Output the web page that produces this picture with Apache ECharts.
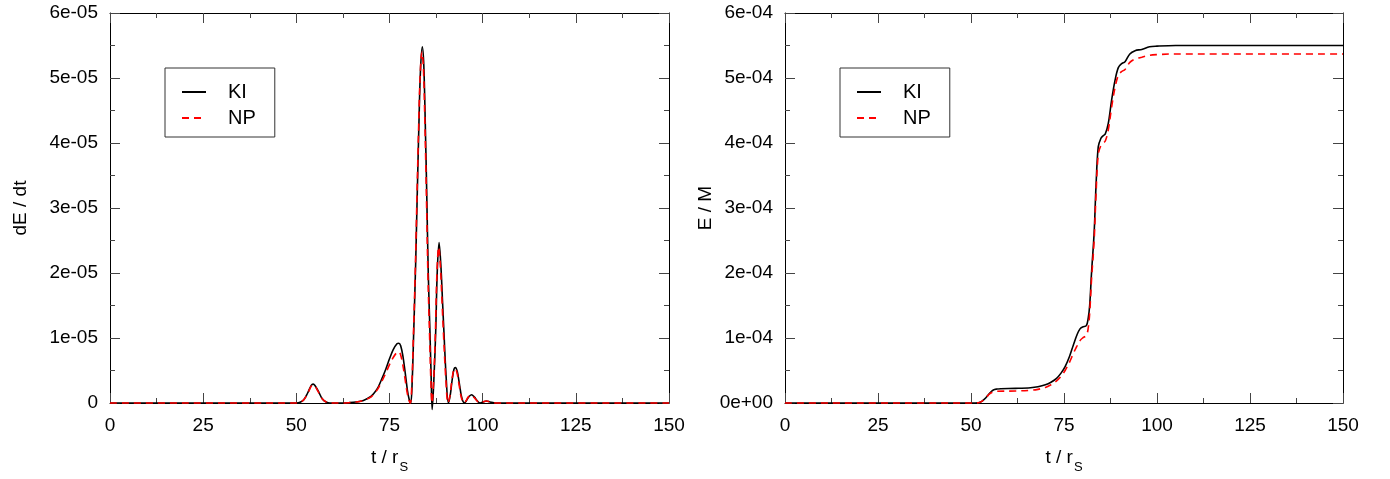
<!DOCTYPE html>
<html>
<head>
<meta charset="utf-8">
<script src="https://cdn.jsdelivr.net/npm/echarts@6/dist/echarts.min.js"></script>
<style>
  html, body { margin: 0; padding: 0; background: #fff; }
  #chart { width: 1390px; height: 479px; }
</style>
</head>
<body>
<div id="chart"></div>
<script>
// Energy flux dE/dt (units of 1e-05) versus t / r_S, two methods
var fluxKI = [
  [0, 0], [50, 0], [51, 0.01], [52, 0.05], [53, 0.15], [54, 0.27], [54.5, 0.29], [55, 0.27],
  [56, 0.17], [57, 0.06], [58, 0.015], [59, 0], [62, 0], [64, 0.005], [66, 0.015], [68, 0.04],
  [70, 0.1], [71, 0.16], [72, 0.25], [73, 0.38], [74, 0.52], [75, 0.68], [76, 0.82], [77, 0.91],
  [77.5, 0.92], [78, 0.88], [78.6, 0.72], [79.2, 0.47], [79.8, 0.2], [80.3, 0.05], [80.7, 0],
  [81.1, 0.35], [81.5, 1.1], [82.0, 2.1], [82.4, 3.1], [82.9, 4.3], [83.3, 5.1], [83.8, 5.48],
  [84.2, 5.2], [84.6, 4.3], [85.0, 3.2], [85.4, 2.0], [85.85, 1.1], [86.2, 0.35], [86.45, -0.1],
  [86.9, 0.35], [87.4, 1.1], [87.8, 2.0], [88.3, 2.47], [88.8, 2.1], [89.2, 1.6], [89.6, 1.1],
  [90.2, 0.4], [90.8, 0], [91.3, 0.12], [91.8, 0.35], [92.3, 0.52], [92.7, 0.545], [93.2, 0.48],
  [93.8, 0.28], [94.4, 0.08], [95.1, 0], [95.6, 0.03], [96.2, 0.09], [97, 0.127], [97.8, 0.09],
  [98.6, 0.03], [99.3, 0], [100.3, 0.02], [101, 0.03], [102, 0.015], [103.5, 0], [150, 0]
];
var fluxNP = [
  [0, 0], [50, 0], [51, 0.01], [52, 0.05], [53, 0.14], [54, 0.26], [54.5, 0.28], [55, 0.26],
  [56, 0.16], [57, 0.06], [58, 0.015], [59, 0], [62, 0], [64, 0.005], [66, 0.015], [68, 0.04],
  [70, 0.09], [71, 0.15], [72, 0.23], [73, 0.34], [74, 0.46], [75, 0.59], [76, 0.7], [77, 0.78],
  [77.5, 0.79], [78, 0.74], [78.6, 0.58], [79.2, 0.36], [79.8, 0.14], [80.3, 0.03], [80.6, 0],
  [81.0, 0.3], [81.4, 1.0], [81.9, 2.0], [82.3, 3.0], [82.8, 4.2], [83.2, 5.0], [83.7, 5.4],
  [84.1, 5.15], [84.5, 4.3], [84.9, 3.2], [85.3, 2.0], [85.75, 1.05], [86.1, 0.35], [86.4, 0],
  [86.8, 0.3], [87.3, 1.05], [87.7, 1.95], [88.2, 2.4], [88.7, 2.05], [89.1, 1.55], [89.5, 1.05],
  [90.1, 0.38], [90.7, 0], [91.2, 0.11], [91.7, 0.33], [92.2, 0.5], [92.6, 0.53], [93.1, 0.47],
  [93.7, 0.27], [94.3, 0.08], [95.0, 0], [95.5, 0.03], [96.1, 0.09], [96.9, 0.12], [97.7, 0.085],
  [98.5, 0.03], [99.2, 0], [100.2, 0.02], [101, 0.03], [102, 0.015], [103.5, 0], [150, 0]
];

// Radiated energy E / M (units of 1e-04) versus t / r_S
var energyKI = [
  [0, 0], [50, 0], [52, 0.005], [53, 0.03], [54, 0.08], [55, 0.15], [56, 0.2], [57, 0.215],
  [58, 0.22], [62, 0.225], [66, 0.235], [68, 0.25], [70, 0.28], [71.5, 0.32], [73, 0.38],
  [74.2, 0.46], [75.3, 0.56], [76.5, 0.72], [77.5, 0.89], [78.5, 1.05], [79.3, 1.14], [80, 1.17],
  [81, 1.19], [81.5, 1.3], [81.9, 1.5], [82.4, 2.0], [83.1, 2.62], [83.6, 3.33], [84.2, 3.94],
  [84.9, 4.07], [85.5, 4.11], [86.1, 4.14], [86.9, 4.3], [87.8, 4.66], [88.7, 4.96], [89.6, 5.16],
  [90.5, 5.22], [91.4, 5.25], [92.7, 5.37], [94.1, 5.42], [95.9, 5.44], [98, 5.48], [100, 5.49],
  [105, 5.5], [150, 5.5]
];
var energyNP = [
  [0, 0], [50, 0], [52, 0.005], [53, 0.03], [54, 0.08], [55, 0.14], [56, 0.17], [57, 0.18],
  [62, 0.185], [66, 0.195], [68, 0.21], [70, 0.24], [71.5, 0.28], [73, 0.34], [74.2, 0.41],
  [75.3, 0.5], [76.5, 0.63], [77.5, 0.76], [78.5, 0.88], [79.3, 0.96], [80, 1.0], [81, 1.04],
  [81.5, 1.15], [81.9, 1.38], [82.4, 1.9], [83.1, 2.5], [83.6, 3.2], [84.2, 3.82], [84.9, 3.96],
  [85.5, 4.0], [86.1, 4.03], [86.9, 4.2], [87.8, 4.55], [88.7, 4.85], [89.6, 5.04], [90.5, 5.1],
  [91.4, 5.13], [92.7, 5.24], [94.1, 5.29], [95.9, 5.32], [98, 5.35], [100, 5.36], [105, 5.37],
  [150, 5.37]
];

var xTicks = ['0', '25', '50', '75', '100', '125', '150'];
var fluxTicks = ['0', '1e-05', '2e-05', '3e-05', '4e-05', '5e-05', '6e-05'];
var energyTicks = ['0e+00', '1e-04', '2e-04', '3e-04', '4e-04', '5e-04', '6e-04'];

var FONT = 'Liberation Sans';
var TXT = '#000';

function xAxisPair(gridIndex) {
  var base = {
    gridIndex: gridIndex, type: 'value', min: 0, max: 150, interval: 25,
    axisLine: { show: true, onZero: false, lineStyle: { color: '#000', width: 1 } },
    axisTick: { show: true, inside: true, length: 10, lineStyle: { color: '#444', width: 1 } },
    minorTick: { show: true, splitNumber: 2, length: 5, lineStyle: { color: '#444', width: 1 } },
    splitLine: { show: false }
  };
  var bottom = Object.assign({}, base, {
    position: 'bottom',
    axisLabel: {
      color: TXT, fontFamily: FONT, fontSize: 19, margin: 13,
      formatter: function (v) { return xTicks[Math.round(v / 25)]; }
    },
    name: '{a|t / r}{s|S}', nameLocation: 'middle', nameGap: 45,
    nameTextStyle: {
      rich: {
        a: { fontFamily: FONT, fontSize: 19, color: TXT, lineHeight: 26, verticalAlign: 'top' },
        s: { fontFamily: FONT, fontSize: 13, color: TXT, lineHeight: 26, verticalAlign: 'bottom', padding: [12, 0, 0, 1] }
      }
    }
  });
  var top = Object.assign({}, base, { position: 'top', axisLabel: { show: false } });
  return [bottom, top];
}

function yAxisPair(gridIndex, labels, title) {
  var base = {
    gridIndex: gridIndex, type: 'value', min: 0, max: 6, interval: 1,
    axisLine: { show: true, onZero: false, lineStyle: { color: '#000', width: 1 } },
    axisTick: { show: true, inside: true, length: 10, lineStyle: { color: '#444', width: 1 } },
    minorTick: { show: true, splitNumber: 2, length: 5, lineStyle: { color: '#444', width: 1 } },
    splitLine: { show: false }
  };
  var left = Object.assign({}, base, {
    position: 'left',
    axisLabel: {
      color: TXT, fontFamily: FONT, fontSize: 19, margin: 12,
      formatter: function (v) { return labels[Math.round(v)]; }
    },
    name: title, nameLocation: 'middle', nameGap: title === 'dE / dt' ? 80 : 70,
    nameTextStyle: { fontFamily: FONT, fontSize: 19, color: TXT }
  });
  var right = Object.assign({}, base, { position: 'right', axisLabel: { show: false } });
  return [left, right];
}

var xa0 = xAxisPair(0), xa1 = xAxisPair(1);
var ya0 = yAxisPair(0, fluxTicks, 'dE / dt'), ya1 = yAxisPair(1, energyTicks, 'E / M');

// Boxed legend: line samples only, no point markers
function legendFor(left) {
  return {
    orient: 'vertical', left: left, top: 68,
    itemWidth: 24, itemHeight: 14, itemGap: 6,
    padding: [14, 19, 9, 16],
    borderColor: '#333', borderWidth: 1,
    itemStyle: { color: 'rgba(0,0,0,0)', borderColor: 'rgba(0,0,0,0)', borderWidth: 0, opacity: 0 },
    lineStyle: { inactiveWidth: 1.6 },
    textStyle: { fontFamily: FONT, fontSize: 20, color: TXT, padding: [0, 0, 0, 17] },
    data: ['KI', 'NP']
  };
}

function lineSeries(name, data, xi, yi, dashed) {
  return {
    name: name, type: 'line', data: data, xAxisIndex: xi, yAxisIndex: yi,
    symbol: 'none', smooth: 0.35, clip: false, animation: false,
    lineStyle: dashed
      ? { color: '#ff0000', width: 1.6, type: [7, 5] }
      : { color: '#000000', width: 1.6 },
    itemStyle: { color: dashed ? '#ff0000' : '#000000' },
    z: dashed ? 3 : 2
  };
}

var chart = echarts.init(document.getElementById('chart'), null, { renderer: 'canvas' });
chart.setOption({
  backgroundColor: '#fff',
  animation: false,
  grid: [
    { left: 110, top: 13, width: 559, height: 392 },
    { left: 785, top: 13, width: 558, height: 392 }
  ],
  legend: [legendFor(165), legendFor(840)],
  xAxis: [xa0[0], xa0[1], xa1[0], xa1[1]],
  yAxis: [ya0[0], ya0[1], ya1[0], ya1[1]],
  series: [
    lineSeries('KI', fluxKI, 0, 0, false),
    lineSeries('NP', fluxNP, 0, 0, true),
    lineSeries('KI', energyKI, 2, 2, false),
    lineSeries('NP', energyNP, 2, 2, true)
  ]
});
</script>
</body>
</html>
